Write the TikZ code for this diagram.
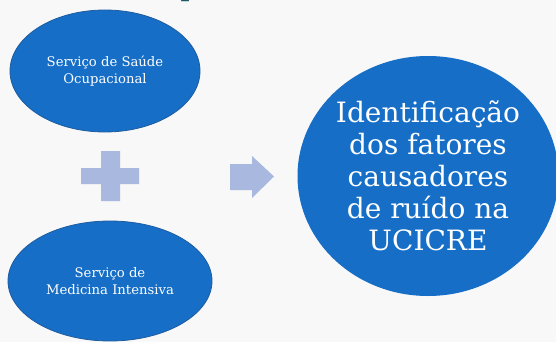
\documentclass[tikz,border=0pt]{standalone}
\usepackage{fontspec}
\setmainfont{DejaVu Serif}
\usetikzlibrary{shapes.geometric}
\definecolor{bluefill}{RGB}{22,110,198}
\definecolor{blueline}{RGB}{30,92,160}
\definecolor{signfill}{RGB}{168,184,222}
\definecolor{titlecol}{RGB}{30,90,100}
\definecolor{paper}{RGB}{248,248,248}
\tikzset{
	bubble/.style={ellipse,fill=bluefill,draw=blueline,line width=0.8pt,inner sep=0pt,text=white,align=center},
	sign/.style={fill=signfill,draw=none}
}

\begin{document}
\begin{tikzpicture}[x=1pt,y=-1pt]
	\fill[paper] (0,0) rectangle (556,342);
	\useasboundingbox (0,0) rectangle (556,342);
	%TITLE REMAINDER
	\begin{scope}
		\clip (0,0) rectangle (556,342);
		\node[text=titlecol,anchor=base,font=\fontsize{30}{30}\selectfont] (title) at (190,-4) {p};
	\end{scope}
	
	%BUBBLES
	\node[bubble,minimum width=190pt,minimum height=122pt,font=\fontsize{13.2}{16.5}\selectfont] (ssaude) at (105,71) {Serviço de Saúde\\Ocupacional};
	\node[bubble,minimum width=204pt,minimum height=120pt,font=\fontsize{13.2}{16.5}\selectfont] (smedicina) at (110,281) {Serviço de\\Medicina Intensiva};
	\node[bubble,draw=none,minimum width=261pt,minimum height=240pt,font=\fontsize{28}{32}\selectfont] (ident) at (428,176) {Identificação\\dos fatores\\causadores\\de ruído na\\UCICRE};
	
	%PLUS
	\fill[sign] (101,151)--(120,151)--(120,168)--(139,168)--(139,184)--(120,184)--(120,201)--(101,201)--(101,184)--(81,184)--(81,168)--(101,168)--cycle;
	
	%ARROW
	\fill[sign] (230,164)--(252,164)--(252,156)--(274,176.5)--(252,198)--(252,190)--(230,190)--cycle;
\end{tikzpicture}
\end{document}
